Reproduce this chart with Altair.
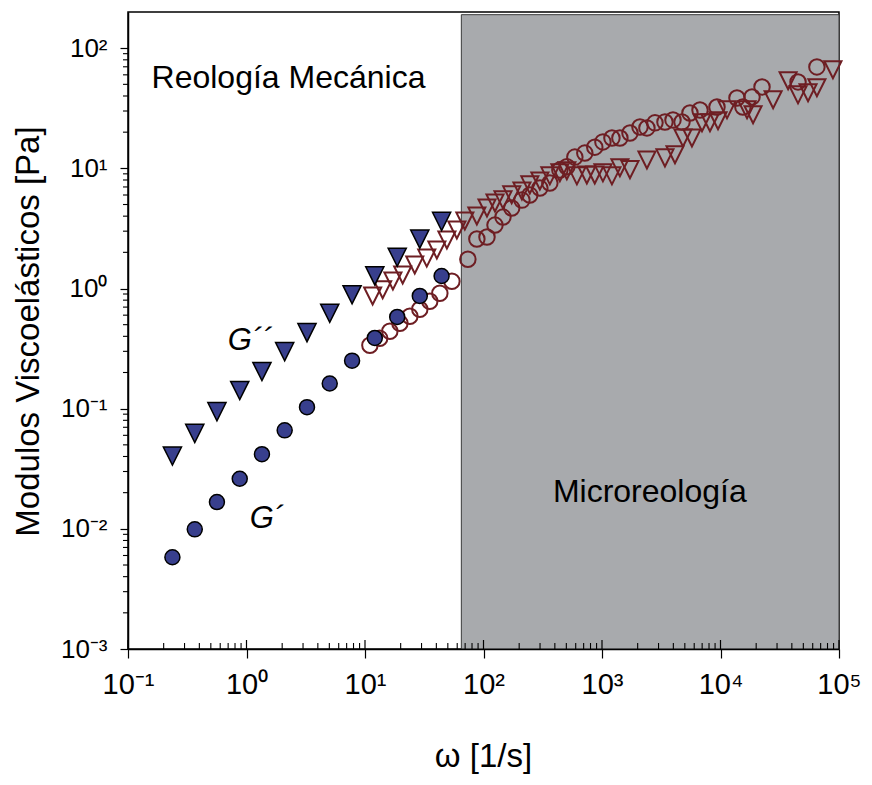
import altair as alt
import pandas as pd

# ---------------- data ----------------
# Mechanical rheology (filled blue symbols)
MECH_W = [0.237, 0.366, 0.563, 0.877, 1.35, 2.10, 3.24, 5.04, 7.78, 12.1, 18.7, 29.0, 44.3]
MECH_GP = [0.0058, 0.0099, 0.0167, 0.0261, 0.0418, 0.066, 0.103, 0.162, 0.251, 0.388, 0.58, 0.867, 1.27]
MECH_GPP = [0.0427, 0.066, 0.100, 0.150, 0.216, 0.316, 0.455, 0.66, 0.94, 1.35, 1.93, 2.73, 3.83]

# Microrheology (open dark-red symbols)
MICRO_GP_W = [11.0, 13.3, 16.2, 19.7, 23.9, 29.0, 35.2, 42.8, 54.1, 73.8,
              87.9, 107, 125, 146, 173, 211, 246, 299, 363, 441,
              505, 590, 716, 869, 1018, 1213, 1416, 1722, 2091, 2394,
              2799, 3398, 3972, 4732, 5524, 6714, 9338, 13770, 15450, 18450,
              22400, 45100, 65100]
MICRO_GP = [0.337, 0.385, 0.441, 0.514, 0.588, 0.672, 0.784, 0.914, 1.15, 1.75,
            2.58, 2.68, 3.37, 3.93, 4.67, 5.44, 5.99, 6.85, 7.54, 9.68,
            10.3, 12.4, 13.4, 15.0, 16.6, 17.9, 17.9, 19.7, 22.1, 21.7,
            23.9, 24.3, 25.3, 24.3, 28.9, 30.6, 32.4, 38.5, 32.4, 39.3,
            47.6, 52.4, 69.8]
MICRO_GPP_W = [11.6, 14.1, 17.2, 20.8, 26.3, 33.2, 40.4, 49.1, 59.6, 69.6,
               87.9, 107, 125, 146, 173, 211, 246, 299, 363, 441,
               505, 614, 745, 869, 1018, 1213, 1416, 1722, 2394, 3398,
               4130, 4823, 5741, 6981, 8150, 9530, 11350, 16750, 18830, 27800,
               37200, 45100, 54800, 65100, 88900]
MICRO_GPP = [0.914, 1.03, 1.22, 1.37, 1.66, 1.89, 2.21, 2.68, 3.24, 3.85,
             4.24, 4.94, 5.44, 5.77, 6.35, 6.85, 7.69, 8.30, 9.14, 9.68,
             10.1, 9.14, 9.31, 9.31, 9.68, 9.14, 10.7, 10.3, 12.4, 12.9,
             13.7, 18.9, 18.9, 25.3, 25.3, 26.3, 32.4, 32.4, 29.5, 39.3,
             56.6, 43.2, 44.9, 49.5, 69.8]

# Microrheology shaded region
REGION_W = [65.0, 1e5]
REGION_G = [1e-3, 190]

# Axes
X_DOMAIN = [0.1, 1e5]
Y_DOMAIN = [1e-3, 200]
X_TICKS = [0.1, 1, 10, 100, 1000, 10000, 100000]
X_TICK_LABELS = ["10⁻¹", "10⁰", "10¹", "10²", "10³", "10⁴", "10⁵"]
Y_TICKS = [0.001, 0.01, 0.1, 1, 10, 100]
Y_TICK_LABELS = ["10⁻³", "10⁻²", "10⁻¹", "10⁰", "10¹", "10²"]
X_MINOR = [m * 10.0 ** k for k in range(-1, 5) for m in range(2, 10)]
Y_MINOR = [m * 10.0 ** k for k in range(-3, 2) for m in range(2, 10)]

# Annotations
ANN_TEXT = ["Reología Mecánica", "Microreología"]
ANN_W = [0.158, 385]
ANN_G = [46.7, 0.0166]
SERIES_TEXT = ["G´´", "G´"]
SERIES_W = [0.695, 1.065]
SERIES_G = [0.306, 0.0101]

# ---------------- styling ----------------
W, H = 711, 637
SANS = "Liberation Sans, Arial, Helvetica, sans-serif"
NARROW = "Liberation Sans Narrow, Arial Narrow, Liberation Sans, sans-serif"
BLUE = "#383F8D"
RED = "#6E1E23"
GRAY = "#A8AAAD"
TRI_DOWN = "M-1,-0.667L1,-0.667L0,1.333Z"


def label_expr(vals, labels):
    expr = "''"
    for v, l in reversed(list(zip(vals, labels))):
        expr = f"abs(datum.value - {v}) < {v * 1e-6} ? '{l}' : ({expr})"
    return expr


xs = alt.Scale(type="log", domain=X_DOMAIN, nice=False)
ys = alt.Scale(type="log", domain=Y_DOMAIN, nice=False)

major_x = alt.Axis(
    orient="bottom", values=X_TICKS, labelExpr=label_expr(X_TICKS, X_TICK_LABELS),
    title="ω [1/s]", titleFont=NARROW, titleFontSize=33, titleFontWeight="normal",
    titleColor="black", titleX=355, titleY=117, titleBaseline="alphabetic",
    titleAlign="center",
    labelFont=NARROW, labelFontSize=29, labelColor="black", labelPadding=12,
    labelBaseline="top", labelFlush=False, labelOverlap=False,
    tickSize=9, tickColor="black", tickWidth=1.2,
    domainColor="black", domainWidth=1.5, grid=False, zindex=2,
)
major_y = alt.Axis(
    orient="left", values=Y_TICKS, labelExpr=label_expr(Y_TICKS, Y_TICK_LABELS),
    title="Modulos Viscoelásticos [Pa]", titleFont=SANS, titleFontSize=33,
    titleFontWeight="normal", titleColor="black", titleX=-90, titleY=319,
    titleBaseline="alphabetic", titleAlign="center", titleAngle=270,
    labelFont=SANS, labelFontSize=26, labelColor="black", labelPadding=13,
    labelFlush=False, labelOverlap=False,
    tickSize=8, tickColor="black", tickWidth=1.2,
    domainColor="black", domainWidth=1.5, grid=False, zindex=2,
)

region = pd.DataFrame({"w0": [REGION_W[0]], "w1": [REGION_W[1]],
                       "g0": [REGION_G[0]], "g1": [REGION_G[1]]})
mech = pd.DataFrame({"w": MECH_W, "gp": MECH_GP, "gpp": MECH_GPP})
micro_gp = pd.DataFrame({"w": MICRO_GP_W, "g": MICRO_GP})
micro_gpp = pd.DataFrame({"w": MICRO_GPP_W, "g": MICRO_GPP})
ann = pd.DataFrame({"w": ANN_W, "g": ANN_G, "t": ANN_TEXT})
ser = pd.DataFrame({"w": SERIES_W, "g": SERIES_G, "t": SERIES_TEXT})
xminor = pd.DataFrame({"v": X_MINOR})
xmajor = pd.DataFrame({"v": X_TICKS})
yminor = pd.DataFrame({"v": Y_MINOR})

rect = alt.Chart(region).mark_rect(fill=GRAY, stroke="#3a3a3a", strokeWidth=1).encode(
    x=alt.X("w0:Q", scale=xs, axis=major_x),
    x2="w1:Q",
    y=alt.Y("g0:Q", scale=ys, axis=major_y),
    y2="g1:Q",
)

# inward minor / major ticks on the bottom axis, outward minor ticks on the left axis
x_minor_ticks = alt.Chart(xminor).mark_rule(color="black", strokeWidth=1.1).encode(
    x=alt.X("v:Q", scale=xs, axis=None),
    y=alt.value(H), y2=alt.value(H - 6),
)
x_major_in = alt.Chart(xmajor).mark_rule(color="black", strokeWidth=1.2).encode(
    x=alt.X("v:Q", scale=xs, axis=None),
    y=alt.value(H), y2=alt.value(H - 9),
)
y_minor_ticks = alt.Chart(yminor).mark_rule(color="black", strokeWidth=1.1).encode(
    y=alt.Y("v:Q", scale=ys, axis=None),
    x=alt.value(0), x2=alt.value(-5),
)

red_tri = alt.Chart(micro_gpp).mark_point(
    shape=TRI_DOWN, size=290, filled=False, stroke=RED, strokeWidth=2, opacity=1
).encode(
    x=alt.X("w:Q", scale=xs, axis=None),
    y=alt.Y("g:Q", scale=ys, axis=None),
)

red_circ = alt.Chart(micro_gp).mark_point(
    shape="circle", size=240, filled=False, stroke=RED, strokeWidth=2, opacity=1
).encode(
    x=alt.X("w:Q", scale=xs, axis=None),
    y=alt.Y("g:Q", scale=ys, axis=None),
)

blue_tri = alt.Chart(mech).mark_point(
    shape=TRI_DOWN, size=330, filled=True, fill=BLUE, stroke="black",
    strokeWidth=1.5, opacity=1
).encode(
    x=alt.X("w:Q", scale=xs, axis=None),
    y=alt.Y("gpp:Q", scale=ys, axis=None),
)

blue_circ = alt.Chart(mech).mark_point(
    shape="circle", size=225, filled=True, fill=BLUE, stroke="black",
    strokeWidth=1.5, opacity=1
).encode(
    x=alt.X("w:Q", scale=xs, axis=None),
    y=alt.Y("gp:Q", scale=ys, axis=None),
)

ann_text = alt.Chart(ann).mark_text(
    font=SANS, fontSize=32, color="black", align="left", baseline="alphabetic"
).encode(
    x=alt.X("w:Q", scale=xs, axis=None),
    y=alt.Y("g:Q", scale=ys, axis=None),
    text="t:N",
)

ser_text = alt.Chart(ser).mark_text(
    font=SANS, fontSize=31, fontStyle="italic", color="black", align="left",
    baseline="alphabetic"
).encode(
    x=alt.X("w:Q", scale=xs, axis=None),
    y=alt.Y("g:Q", scale=ys, axis=None),
    text="t:N",
)

chart = alt.layer(
    rect, x_minor_ticks, x_major_in, y_minor_ticks,
    red_tri, red_circ, blue_tri, blue_circ, ann_text, ser_text
).resolve_axis(
    x="independent", y="independent"
).properties(
    width=W, height=H,
    autosize=alt.AutoSizeParams(type="none"),
    padding={"left": 120, "top": 4, "right": 25, "bottom": 128},
    background="white",
).configure_view(
    stroke="black", strokeWidth=1.5
)

chart.save("out.html", embed_options={"renderer": "svg", "actions": False})
